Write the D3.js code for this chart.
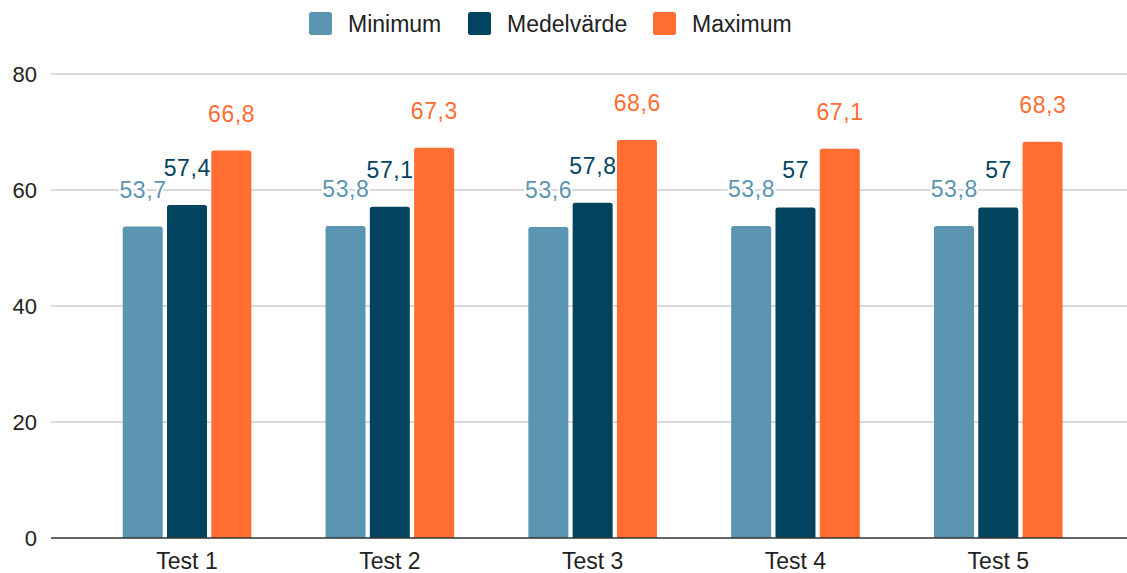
<!DOCTYPE html>
<html><head><meta charset="utf-8">
<script src="https://cdn.jsdelivr.net/npm/d3@7"></script>
<style>body{margin:0;background:#fff}svg{display:block}text{font-family:"Liberation Sans",Arial,sans-serif}</style>
</head><body>
<svg id="c" width="1127" height="573"></svg>
<script>
const categories = ["Test 1","Test 2","Test 3","Test 4","Test 5"];
const seriesNames = ["Minimum","Medelvärde","Maximum"];
const minimum = [53.7,53.8,53.6,53.8,53.8];
const medel = [57.4,57.1,57.8,57,57];
const maximum = [66.8,67.3,68.6,67.1,68.3];
const yTicks = [0,20,40,60,80];
const colors = ["#5b95b1","#02445f","#ff6d31"];
const seriesValues = [minimum, medel, maximum];

const svg = d3.select("#c");
const y = d3.scaleLinear().domain([0,80]).range([538,74]);
const x0 = d3.scaleBand().domain(categories).range([85.6,1099.7]).padding(0);
const groupW = 128.6;
const x1 = d3.scaleBand().domain(seriesNames)
  .range([x0.bandwidth()/2 - groupW/2, x0.bandwidth()/2 + groupW/2]).paddingInner(0.097).paddingOuter(0);
const fmt = v => String(v).replace(".", ",");

// gridlines
svg.append("g").selectAll("line").data(yTicks.filter(t=>t>0)).join("line")
  .attr("x1",51).attr("x2",1127).attr("y1",d=>y(d)).attr("y2",d=>y(d))
  .attr("stroke","#cccccc").attr("stroke-width",1.6);
// y tick labels
svg.append("g").selectAll("text").data(yTicks).join("text")
  .attr("x",37).attr("y",d=>y(d)).attr("dy","0.36em").attr("text-anchor","end")
  .attr("font-size",22).attr("fill","#222").text(d=>d);

function barPath(x,yTop,w,h,r){
  r=Math.min(r,h);
  return `M${x},${yTop+h}V${yTop+r}Q${x},${yTop} ${x+r},${yTop}H${x+w-r}Q${x+w},${yTop} ${x+w},${yTop+r}V${yTop+h}Z`;
}

seriesNames.forEach((s,si)=>{
  const vals = seriesValues[si];
  const g = svg.append("g");
  g.selectAll("path").data(vals).join("path")
    .attr("d",(d,i)=>barPath(x0(categories[i])+x1(s), y(d), x1.bandwidth(), y(0)-y(d), 2.5))
    .attr("fill",colors[si]);
  g.selectAll("text").data(vals).join("text")
    .attr("x",(d,i)=>x0(categories[i])+x1(s)+x1.bandwidth()/2+0.3)
    .attr("y",d=>y(d)-29)
    .attr("text-anchor","middle").attr("font-size",23).attr("letter-spacing",0.6)
    .attr("fill",colors[si]).attr("stroke","#fff").attr("stroke-width",4)
    .attr("paint-order","stroke").attr("stroke-linejoin","round")
    .text(d=>fmt(d));
});

// baseline
svg.append("line").attr("x1",51).attr("x2",1127).attr("y1",y(0)).attr("y2",y(0))
  .attr("stroke","#333").attr("stroke-width",1.6);

// x labels
svg.append("g").selectAll("text").data(categories).join("text")
  .attr("x",d=>x0(d)+x0.bandwidth()/2).attr("y",569).attr("text-anchor","middle")
  .attr("font-size",23).attr("fill","#222").text(d=>d);

// legend
const legendX = [309,468,653];
const lg = svg.append("g");
seriesNames.forEach((s,i)=>{
  lg.append("rect").attr("x",legendX[i]).attr("y",12).attr("width",23).attr("height",23)
    .attr("rx",2.5).attr("fill",colors[i]);
  lg.append("text").attr("x",legendX[i]+39).attr("y",23.5).attr("dy","0.36em")
    .attr("font-size",23).attr("fill","#222").text(s);
});
</script>
</body></html>
